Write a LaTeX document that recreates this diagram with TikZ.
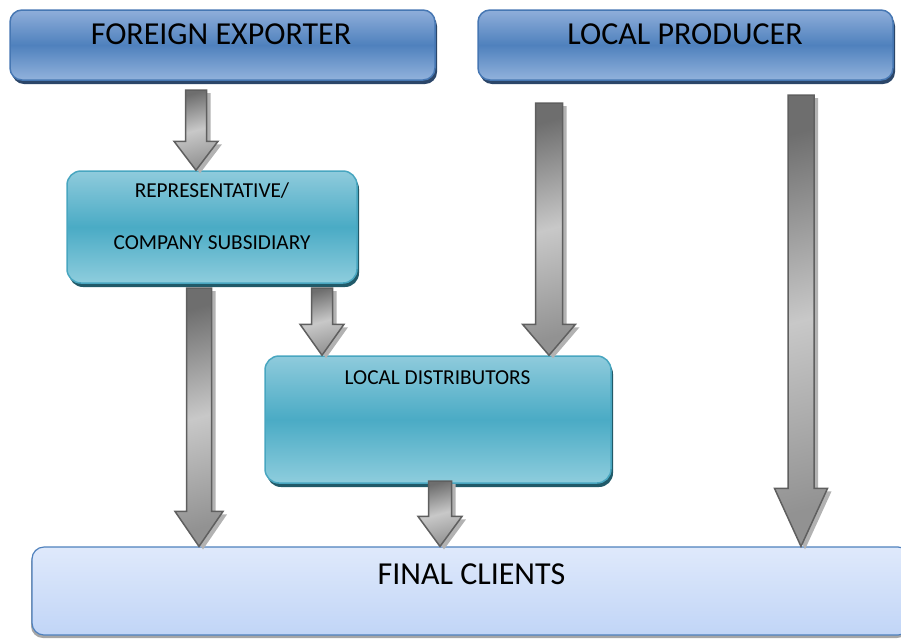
\documentclass[tikz,border=0pt]{standalone}
\usepackage{fontspec}
\setmainfont{Carlito}
\usetikzlibrary{calc,shadows}

\definecolor{bluetop}{HTML}{8FAEDA}
\definecolor{bluemid}{HTML}{4F81BD}
\definecolor{bluebot}{HTML}{92B2DC}
\definecolor{blueline}{HTML}{4677B3}
\definecolor{blueshade}{HTML}{2B4669}
\definecolor{tealtop}{HTML}{8FCBDC}
\definecolor{tealmid}{HTML}{4AABC5}
\definecolor{tealbot}{HTML}{8ECDDD}
\definecolor{tealline}{HTML}{48A6C0}
\definecolor{tealshade}{HTML}{215A69}
\definecolor{paletop}{HTML}{DFE9FB}
\definecolor{palebot}{HTML}{C1D5F7}
\definecolor{arrdark}{HTML}{6E6E6E}
\definecolor{arrlight}{HTML}{C8C8C8}
\definecolor{arrline}{HTML}{5F5F5F}

\tikzset{
  topbox/.style={rectangle, rounded corners=12pt, draw=blueline, line width=1.5pt,
    top color=bluetop, bottom color=bluebot, middle color=bluemid,
    drop shadow={shadow xshift=2pt, shadow yshift=-4pt, fill=blueshade, opacity=1}},
  midbox/.style={rectangle, rounded corners=14pt, draw=tealline, line width=1.5pt,
    top color=tealtop, bottom color=tealbot, middle color=tealmid,
    drop shadow={shadow xshift=2pt, shadow yshift=-4pt, fill=tealshade, opacity=1}},
  endbox/.style={rectangle, rounded corners=12pt, draw=bluemid, line width=1.2pt,
    top color=paletop, bottom color=palebot,
    drop shadow={shadow xshift=-1pt, shadow yshift=-3pt, fill=black!35, opacity=1}},
  bigtxt/.style={inner sep=0pt, font=\fontsize{32}{38}\selectfont},
  smalltxt/.style={inner sep=0pt, font=\fontsize{21.3}{26}\selectfont},
  flow/.style={draw=arrline, line width=1.5pt, line join=miter,
    top color=arrdark, bottom color=arrdark!75, middle color=arrlight, shading angle=15,
    drop shadow={shadow xshift=4pt, shadow yshift=-3pt, fill=black!30, opacity=1}},
}

% block arrow: start, end, half shaft, half head, head length
\newcommand{\flowarrow}[5]{%
  \path[flow] let \p1=(#1), \p2=(#2) in
    (\x1-#3pt,\y1) -- (\x1+#3pt,\y1) -- (\x1+#3pt,\y2+#5pt) -- (\x1+#4pt,\y2+#5pt)
    -- (\x1,\y2) -- (\x1-#4pt,\y2+#5pt) -- (\x1-#3pt,\y2+#5pt) -- cycle;}

\begin{document}
\begin{tikzpicture}[x=1pt, y=-1pt]
  \useasboundingbox (0,0) rectangle (901,638);

  % boxes
  \node[topbox, minimum width=425pt, minimum height=70pt] (fe) at (222.5,45) {};
  \node[topbox, minimum width=415pt, minimum height=70pt] (lp) at (685.5,45) {};
  \node[midbox, minimum width=290pt, minimum height=112pt] (rep) at (212,227) {};
  \node[midbox, minimum width=346pt, minimum height=127pt] (ld) at (438,419.5) {};
  \node[endbox, minimum width=878pt, minimum height=88pt] (fc) at (471,591) {};

  % labels
  \node[bigtxt] (fe-txt) at (221,34) {FOREIGN EXPORTER};
  \node[bigtxt] (lp-txt) at (685,34) {LOCAL PRODUCER};
  \node[smalltxt] (rep-txt1) at (212,191) {REPRESENTATIVE/};
  \node[smalltxt] (rep-txt2) at (212,243) {COMPANY SUBSIDIARY};
  \node[smalltxt] (ld-txt) at (437.5,378) {LOCAL DISTRIBUTORS};
  \node[bigtxt] (fc-txt) at (471.5,574) {FINAL CLIENTS};

  % arrow starts
  \coordinate (fe-out) at (196,90);
  \coordinate (rep-out1) at (199,288);
  \coordinate (rep-out2) at (322,288);
  \coordinate (lp-out1) at (549,103);
  \coordinate (lp-out2) at (801,95);
  \coordinate (ld-out) at (440,481);

  % arrows
  \flowarrow{fe-out}{fe-out |- rep.north}{10.5}{22}{29}
  \flowarrow{rep-out1}{rep-out1 |- fc.north}{12.5}{24}{35}
  \flowarrow{rep-out2}{rep-out2 |- ld.north}{10.5}{22}{31}
  \flowarrow{lp-out1}{lp-out1 |- ld.north}{13.5}{26.5}{31}
  \flowarrow{lp-out2}{lp-out2 |- fc.north}{13}{26.5}{58}
  \flowarrow{ld-out}{ld-out |- fc.north}{11.5}{22}{30}
\end{tikzpicture}
\end{document}
